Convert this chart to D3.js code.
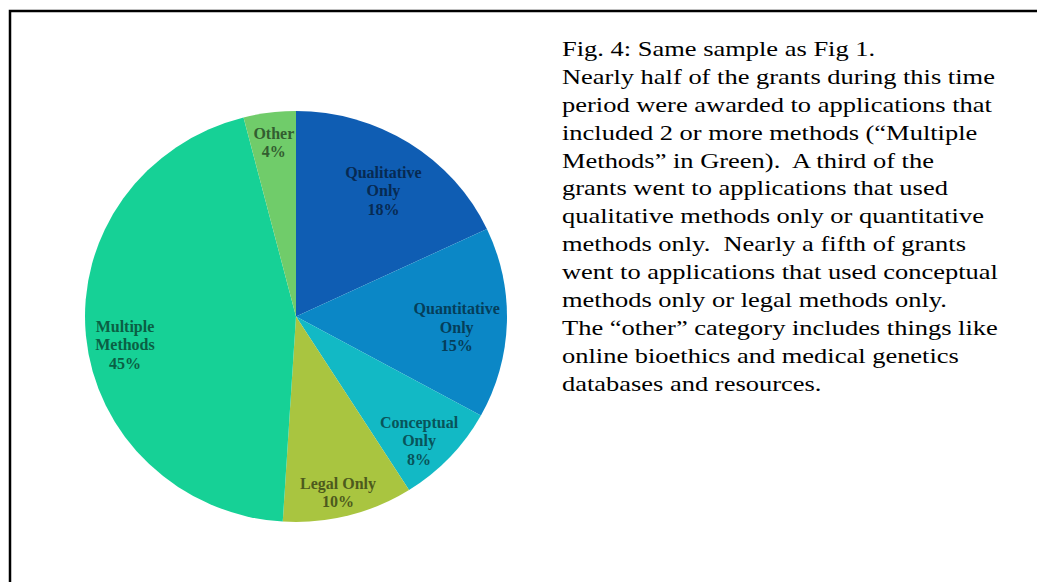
<!DOCTYPE html>
<html>
<head>
<meta charset="utf-8">
<script src="https://d3js.org/d3.v7.min.js"></script>
<style>
html,body{margin:0;padding:0;background:#fff;}
svg{display:block;}
</style>
</head>
<body>
<svg id="chart" width="1037" height="582"></svg>
<script>
const categories = ["Qualitative Only", "Quantitative Only", "Conceptual Only", "Legal Only", "Multiple Methods", "Other"];
const values = [18, 15, 8, 10, 45, 4];
const labelLines = [["Qualitative", "Only", "18%"], ["Quantitative", "Only", "15%"], ["Conceptual", "Only", "8%"], ["Legal Only", "10%"], ["Multiple", "Methods", "45%"], ["Other", "4%"]];
const colors = ["#0f5db3", "#0b87c6", "#12b9c5", "#a9c540", "#16d196", "#70cc6a"];
const textLines = [
  "Fig. 4: Same sample as Fig 1.",
  "Nearly half of the grants during this time",
  "period were awarded to applications that",
  "included 2 or more methods (\u201cMultiple",
  "Methods\u201d in Green).  A third of the",
  "grants went to applications that used",
  "qualitative methods only or quantitative",
  "methods only.  Nearly a fifth of grants",
  "went to applications that used conceptual",
  "methods only or legal methods only.",
  "The \u201cother\u201d category includes things like",
  "online bioethics and medical genetics",
  "databases and resources."
];
// layout-only nudges for the data labels (best-fit placement), in px
const labelNudge = [[-3, 17], [-8, 6], [0, 9], [0, 13], [-3, 13], [-1, -6]];

const svg = d3.select("#chart");
// frame
svg.append("path")
  .attr("d", "M10,600 L10,11 L1050,11")
  .attr("fill", "none").attr("stroke", "#000").attr("stroke-width", 2.5);

const cx = 296, cy = 316.5, R = 211;
const color = d3.scaleOrdinal().domain(categories).range(colors);
const pie = d3.pie().sort(null).value(d => d)(values);
const arc = d3.arc().innerRadius(0).outerRadius(R);
const labelArc = d3.arc().innerRadius(R * 0.8).outerRadius(R * 0.8);

const gs = svg.append("g").attr("transform", `translate(${cx},${cy}) scale(1,0.974)`);
gs.selectAll("path.slice").data(pie).join("path")
  .attr("class", "slice")
  .attr("d", arc)
  .attr("fill", (d, i) => color(categories[i]));

const gl = svg.append("g").attr("transform", `translate(${cx},${cy - 0.5})`);
const lh = 18.5;
gl.selectAll("text.lbl").data(pie).join("text")
  .attr("class", "lbl")
  .attr("text-anchor", "middle")
  .attr("font-family", "'Liberation Serif', 'DejaVu Serif', serif")
  .attr("font-size", 16)
  .attr("font-weight", "bold")
  .attr("fill", (d, i) => d3.color(color(categories[i])).darker(2.2))
  .each(function(d, i) {
    const [x0, y0c] = labelArc.centroid(d);
    const x = x0 + labelNudge[i][0], y = y0c + labelNudge[i][1];
    const lines = labelLines[i];
    const t = d3.select(this);
    const y0 = y - (lines.length - 1) * lh / 2;
    lines.forEach((ln, k) => {
      t.append("tspan").attr("x", x).attr("y", y0 + k * lh).attr("dy", "0.35em").text(ln);
    });
  });

const tx = svg.append("text")
  .attr("font-family", "'Liberation Serif', 'Times New Roman', serif")
  .attr("font-size", 21.5)
  .attr("fill", "#000");
const spans = textLines.map((ln, k) =>
  tx.append("tspan").attr("x", 0).attr("y", 56 + k * 27.9).attr("xml:space", "preserve").text(ln));
const w = spans[1].node().getComputedTextLength();
const sx = 433 / w;
tx.attr("transform", `translate(562,0) scale(${sx},1)`);
</script>
</body>
</html>
